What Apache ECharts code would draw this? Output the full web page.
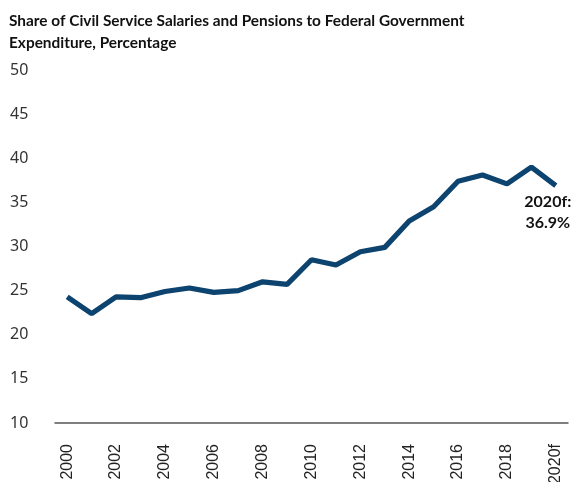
<!DOCTYPE html>
<html><head><meta charset="utf-8">
<script src="https://cdn.jsdelivr.net/npm/echarts@6/dist/echarts.min.js"></script>
<style>html,body{margin:0;padding:0;background:#fff}#c{width:573px;height:482px}</style>
</head><body><div id="c"></div>
<script>
var categories = ['2000','2001','2002','2003','2004','2005','2006','2007','2008','2009','2010','2011','2012','2013','2014','2015','2016','2017','2018','2019','2020f'];
var shareValues = [24.3,22.4,24.3,24.2,24.9,25.3,24.8,25.0,26.0,25.7,28.5,27.9,29.4,29.9,32.9,34.5,37.4,38.1,37.1,39.0,36.9];
var yTicks = {min:10, max:50, interval:5};
var titleText = 'Share of Civil Service Salaries and Pensions to Federal Government\nExpenditure, Percentage';
var annotation = '2020f:\n36.9%';

var data = shareValues.map(function(v,i){
  if (i === shareValues.length-1) {
    return {value:v, label:{show:true, position:'bottom', distance:5, offset:[-8,0], align:'center',
      formatter:annotation, fontFamily:'Lato', fontWeight:'bold', fontSize:16, lineHeight:21, color:'#111', opacity:1}};
  }
  return v;
});

var chart = echarts.init(document.getElementById('c'));
chart.setOption({
  animation:false,
  title:{text:titleText, left:9, top:10, padding:0, textStyle:{fontFamily:'Lato', fontWeight:'bold', fontSize:15.4, lineHeight:22, color:'#111'}},
  grid:{left:55, right:5, top:70, bottom:59, containLabel:false, outerBoundsMode:'none'},
  xAxis:{type:'category', data:categories, boundaryGap:true,
    axisLine:{lineStyle:{color:'#555', width:1.5}}, axisTick:{show:false},
    axisLabel:{interval:1, rotate:90, margin:21, fontFamily:'Liberation Sans', fontSize:16, color:'#222'}},
  yAxis:{type:'value', min:yTicks.min, max:yTicks.max, interval:yTicks.interval,
    axisLine:{show:false}, axisTick:{show:false}, splitLine:{show:false},
    axisLabel:{align:'left', margin:45, fontFamily:'Noto Sans', fontSize:16, color:'#333'}},
  series:[{type:'line', data:data, symbol:'circle', symbolSize:1, showSymbol:true,
    itemStyle:{color:'rgba(0,0,0,0)', borderWidth:0}, lineStyle:{color:'#0c436f', width:5.2}, label:{show:false}}]
});
</script></body></html>
